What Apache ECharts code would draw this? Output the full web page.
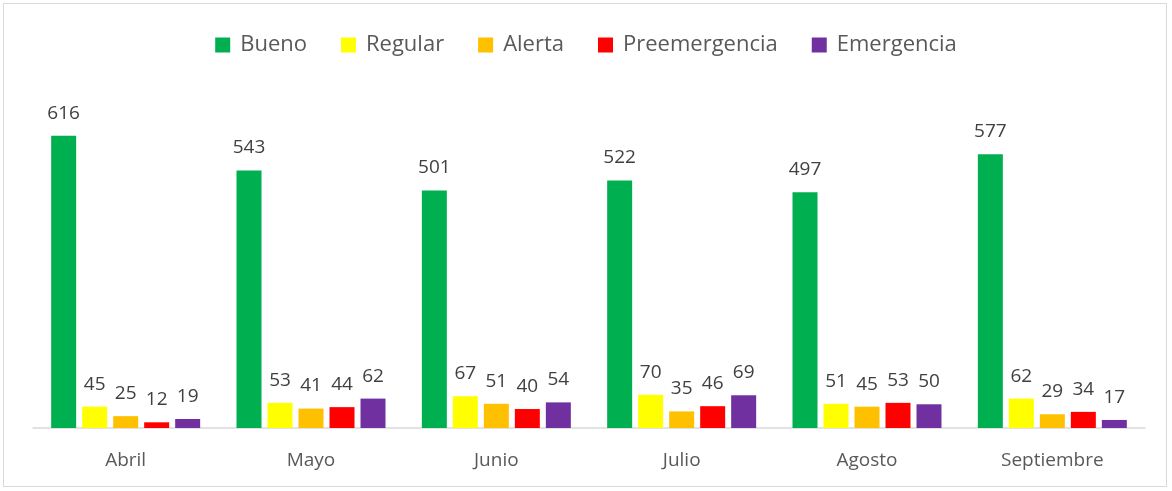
<!DOCTYPE html>
<html>
<head>
<meta charset="UTF-8">
<title>Calidad del aire</title>
<script src="https://cdn.jsdelivr.net/npm/echarts@6/dist/echarts.min.js"></script>
<style>
  html, body { margin: 0; padding: 0; background: #fff; }
  #main { width: 1172px; height: 491px; box-sizing: border-box; }
  #frame { position: absolute; left: 3px; top: 3px; width: 1164px; height: 484px; border: 1px solid #d9d9d9; box-sizing: border-box; }
</style>
</head>
<body>
<div id="frame"></div>
<div id="main"></div>
<script type="text/javascript">
    var meses = ['Abril', 'Mayo', 'Junio', 'Julio', 'Agosto', 'Septiembre'];
    var bueno = [616, 543, 501, 522, 497, 577];
    var regular = [45, 53, 67, 70, 51, 62];
    var alerta = [25, 41, 51, 35, 45, 29];
    var preemergencia = [12, 44, 40, 46, 53, 34];
    var emergencia = [19, 62, 54, 69, 50, 17];

    var nombres = ['Bueno', 'Regular', 'Alerta', 'Preemergencia', 'Emergencia'];
    var colores = ['#00b050', '#ffff00', '#ffc000', '#ff0000', '#7030a0'];
    var datos = [bueno, regular, alerta, preemergencia, emergencia];

    var myChart = echarts.init(document.getElementById('main'));

    var series = [];
    for (var i = 0; i < nombres.length; i++) {
        series.push({
            name: nombres[i],
            type: 'bar',
            data: datos[i],
            barWidth: 25,
            barGap: '24%',
            itemStyle: { color: colores[i] },
            label: {
                show: true,
                position: 'top',
                distance: 13,
                color: '#404040',
                fontSize: 19,
                fontFamily: 'Open Sans'
            }
        });
    }

    var option = {
        animation: false,
        textStyle: { fontFamily: 'Open Sans' },
        legend: {
            data: nombres,
            top: 29,
            left: 'center',
            itemWidth: 15,
            itemHeight: 15,
            itemGap: 34,
            icon: 'rect',
            textStyle: { color: '#595959', fontSize: 22, fontFamily: 'Open Sans', padding: [0, 0, 0, 5] }
        },
        grid: { left: 33, right: 27, top: 96, bottom: 63 },
        xAxis: {
            type: 'category',
            data: meses,
            axisLine: { lineStyle: { color: '#d9d9d9', width: 1.5 } },
            axisTick: { show: false },
            axisLabel: { color: '#595959', fontSize: 19, margin: 23, fontFamily: 'Open Sans' }
        },
        yAxis: {
            type: 'value',
            min: 0,
            max: 700,
            show: false,
            splitLine: { show: false }
        },
        series: series
    };
    myChart.setOption(option);
</script>
</body>
</html>
